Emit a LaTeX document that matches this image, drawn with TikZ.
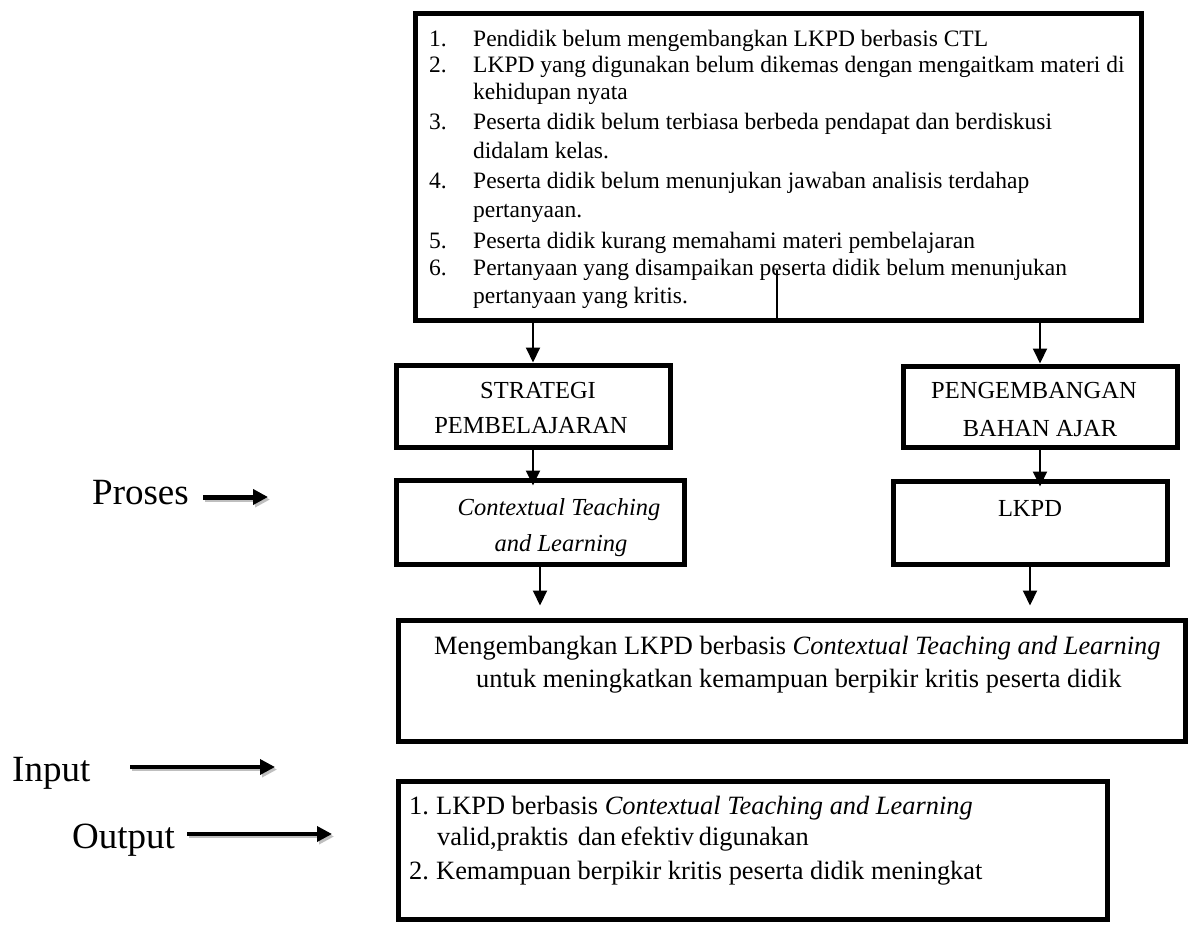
\documentclass[tikz,border=0pt]{standalone}
\usepackage{fontspec}
\setmainfont{Liberation Serif}
\usetikzlibrary{arrows.meta}
\begin{document}
\begin{tikzpicture}[x=1pt,y=-1pt,
  box/.style={draw=black, line width=5pt, inner sep=0pt},
  lt/.style={inner sep=0pt, anchor=base west, font=\fontsize{23.5}{28}\selectfont},
  hd/.style={inner sep=0pt, anchor=base, font=\fontsize{24.5}{29}\selectfont},
  bt/.style={inner sep=0pt, anchor=base west, font=\fontsize{26.4}{32}\selectfont},
  lab/.style={inner sep=0pt, anchor=base west, font=\fontsize{37}{44}\selectfont},
  conn/.style={line width=2pt, -{Triangle[width=14pt,length=15pt]}},
  sidearr/.style={-{Triangle[width=15pt,length=15pt]}},
  shade/.style={draw=black!25}
]
\fill[white] (0,0) rectangle (1193,925);
\useasboundingbox (0,0) rectangle (1193,925);

% boxes
\node[box, minimum width=726pt, minimum height=306pt] (top) at (778,167) {};
\node[box, minimum width=274pt, minimum height=82pt] (strat) at (533,406) {};
\node[box, minimum width=288pt, minimum height=84pt] (ctl) at (540,522) {};
\node[box, minimum width=274pt, minimum height=81pt] (peng) at (1040,406.5) {};
\node[box, minimum width=274pt, minimum height=83pt] (lkpd) at (1030,522.5) {};
\node[box, minimum width=787pt, minimum height=121pt] (mid) at (791.5,680.5) {};
\node[box, minimum width=709pt, minimum height=138pt] (out) at (752.5,850) {};

% top list
\node[lt] (n1) at (429,47) {1.};
\node[lt] (l1) at (473,47) {Pendidik belum mengembangkan LKPD berbasis CTL};
\node[lt] (n2) at (429,73) {2.};
\node[lt] (l2) at (473,73) {LKPD yang digunakan belum dikemas dengan mengaitkam materi di};
\node[lt] (l2b) at (473,100) {kehidupan nyata};
\node[lt] (n3) at (429,130) {3.};
\node[lt] (l3) at (473,130) {Peserta didik belum terbiasa berbeda pendapat dan berdiskusi};
\node[lt] (l3b) at (473,159) {didalam kelas.};
\node[lt] (n4) at (429,189) {4.};
\node[lt] (l4) at (473,189) {Peserta didik belum menunjukan jawaban analisis terdahap};
\node[lt] (l4b) at (473,218) {pertanyaan.};
\node[lt] (n5) at (429,248) {5.};
\node[lt] (l5) at (473,248) {Peserta didik kurang memahami materi pembelajaran};
\node[lt] (n6) at (429,275) {6.};
\node[lt] (l6) at (473,275) {Pertanyaan yang disampaikan peserta didik belum menunjukan};
\node[lt] (l6b) at (473,303) {pertanyaan yang kritis.};

% thin line in top box
\coordinate (tk) at (777,270);
\draw[line width=1.5pt] (tk) -- (tk |- top.south);

% headings
\node[hd] (s1) at (538,398) {STRATEGI};
\node[hd] (s2) at (531,433) {PEMBELAJARAN};
\node[hd] (p1) at (1034,398) {PENGEMBANGAN};
\node[hd] (p2) at (1040,436) {BAHAN AJAR};
\node[hd, font=\fontsize{24.5}{29}\selectfont\itshape] (c1) at (559,515) {Contextual Teaching};
\node[hd, font=\fontsize{24.5}{29}\selectfont\itshape] (c2) at (561,551) {and Learning};
\node[hd] (k1) at (1030,516) {LKPD};

% middle box text
\node[bt] (m1) at (434,654) {Mengembangkan LKPD berbasis \textit{Contextual Teaching and Learning}};
\node[bt] (m2) at (476,687) {untuk meningkatkan kemampuan berpikir kritis peserta didik};

% output box text
\node[bt] (o1n) at (409,814) {1.};
\node[bt] (o1) at (436,814) {LKPD berbasis \textit{Contextual Teaching and Learning}};
\node[bt] (o1b) at (437,845) {\spaceskip=0.18em valid,praktis\ \ dan efektiv digunakan};
\node[bt] (o2n) at (409,879) {2.};
\node[bt] (o2) at (436,879) {Kemampuan berpikir kritis peserta didik meningkat};

% connectors
\draw[conn] (strat.north |- top.south) -- (strat.north);
\draw[conn] (peng.north |- top.south) -- (peng.north);
\draw[conn, shorten >=-8pt] (strat.south) -- (strat.south |- ctl.north);
\draw[conn, shorten >=-8pt] (peng.south) -- (peng.south |- lkpd.north);
\draw[conn, shorten >=12pt] (ctl.south) -- (ctl.south |- mid.north);
\draw[conn, shorten >=12pt] (lkpd.south) -- (lkpd.south |- mid.north);

% side labels
\node[lab] (proses) at (92,504) {Proses};
\node[lab] (input) at (12,781) {Input};
\node[lab] (output) at (72,848) {Output};

\coordinate (pa) at (203,497); \coordinate (pb) at (268,497);
\coordinate (ia) at (130,767); \coordinate (ib) at (275,767);
\coordinate (oa) at (187,834); \coordinate (ob) at (332,834);

\draw[sidearr, shade, line width=5pt] ([shift={(2,2.5)}]pa) -- ([shift={(2,2.5)}]pb);
\draw[sidearr, shade, line width=3.5pt] ([shift={(2,2.5)}]ia) -- ([shift={(2,2.5)}]ib);
\draw[sidearr, shade, line width=3.5pt] ([shift={(2,2.5)}]oa) -- ([shift={(2,2.5)}]ob);
\draw[sidearr, line width=5pt] (pa) -- (pb);
\draw[sidearr, line width=3.5pt] (ia) -- (ib);
\draw[sidearr, line width=3.5pt] (oa) -- (ob);
\end{tikzpicture}
\end{document}
